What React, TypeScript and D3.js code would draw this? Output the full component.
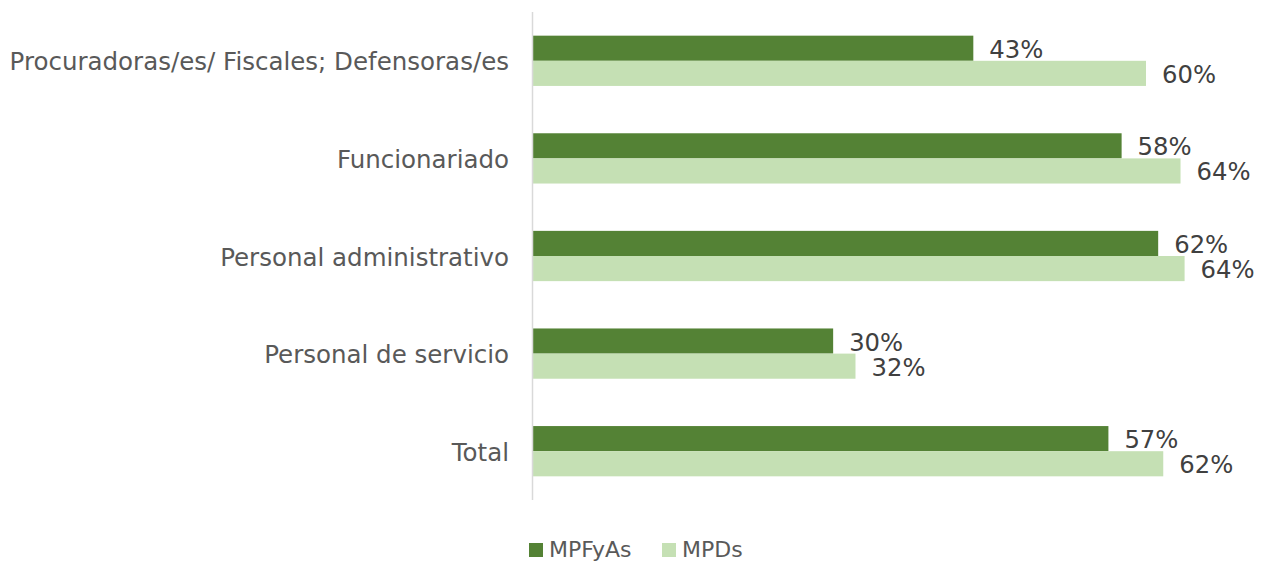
import React from "react";
import * as d3 from "d3";

const categories = [
  "Procuradoras/es/ Fiscales; Defensoras/es",
  "Funcionariado",
  "Personal administrativo",
  "Personal de servicio",
  "Total",
];
const seriesNames = ["MPFyAs", "MPDs"];
const mpfyas = [43.4, 58.0, 61.6, 29.6, 56.7];
const mpds = [60.4, 63.8, 64.2, 31.8, 62.1];
const labelsMpfyas = ["43%", "58%", "62%", "30%", "57%"];
const labelsMpds = ["60%", "64%", "64%", "32%", "62%"];
const colors = ["#548235", "#C5E0B4"];

const W = 1270;
const H = 563;

export default function App() {
  const x0 = 532.5;
  const x = d3.scaleLinear().domain([0, 70]).range([x0, x0 + 711]);
  const y = d3.scaleBand().domain(categories).range([12, 500]).paddingInner(0.485).paddingOuter(0.2425);
  const sub = d3.scaleBand().domain(seriesNames).range([0, y.bandwidth()]);
  const series = [
    { name: seriesNames[0], values: mpfyas, labels: labelsMpfyas, color: colors[0] },
    { name: seriesNames[1], values: mpds, labels: labelsMpds, color: colors[1] },
  ];
  const font = "'DejaVu Sans', Verdana, sans-serif";
  const legendX = [529, 662];
  return (
    <div style={{ position: "absolute", left: 0, top: 0 }}>
      <svg width={W} height={H} style={{ display: "block" }}>
        <rect width={W} height={H} fill="#ffffff" />
        {series.map((s) =>
          categories.map((c, i) => (
            <rect
              key={s.name + c}
              x={x(0)}
              y={(y(c) as number) + (sub(s.name) as number)}
              width={x(s.values[i]) - x(0)}
              height={sub.bandwidth()}
              fill={s.color}
            />
          ))
        )}
        <line x1={x0} x2={x0} y1={12} y2={500} stroke="#d9d9d9" strokeWidth={1.5} />
        {categories.map((c) => (
          <text
            key={c}
            x={509}
            y={(y(c) as number) + y.bandwidth() / 2 + 1}
            textAnchor="end"
            dominantBaseline="central"
            fontFamily={font}
            fontSize={24.5}
            fill="#595959"
          >
            {c}
          </text>
        ))}
        {series.map((s) =>
          categories.map((c, i) => (
            <text
              key={"l" + s.name + c}
              x={x(s.values[i]) + 16}
              y={(y(c) as number) + (sub(s.name) as number) + sub.bandwidth() / 2 + 1}
              dominantBaseline="central"
              fontFamily={font}
              fontSize={24.3}
              fill="#404040"
            >
              {s.labels[i]}
            </text>
          ))
        )}
        {series.map((s, k) => {
          const lx = legendX[k];
          return (
            <g key={"lg" + s.name}>
              <rect x={lx} y={543} width={14} height={14} fill={s.color} />
              <text x={lx + 20} y={557} fontFamily={font} fontSize={22} fill="#595959">
                {s.name}
              </text>
            </g>
          );
        })}
      </svg>
    </div>
  );
}
